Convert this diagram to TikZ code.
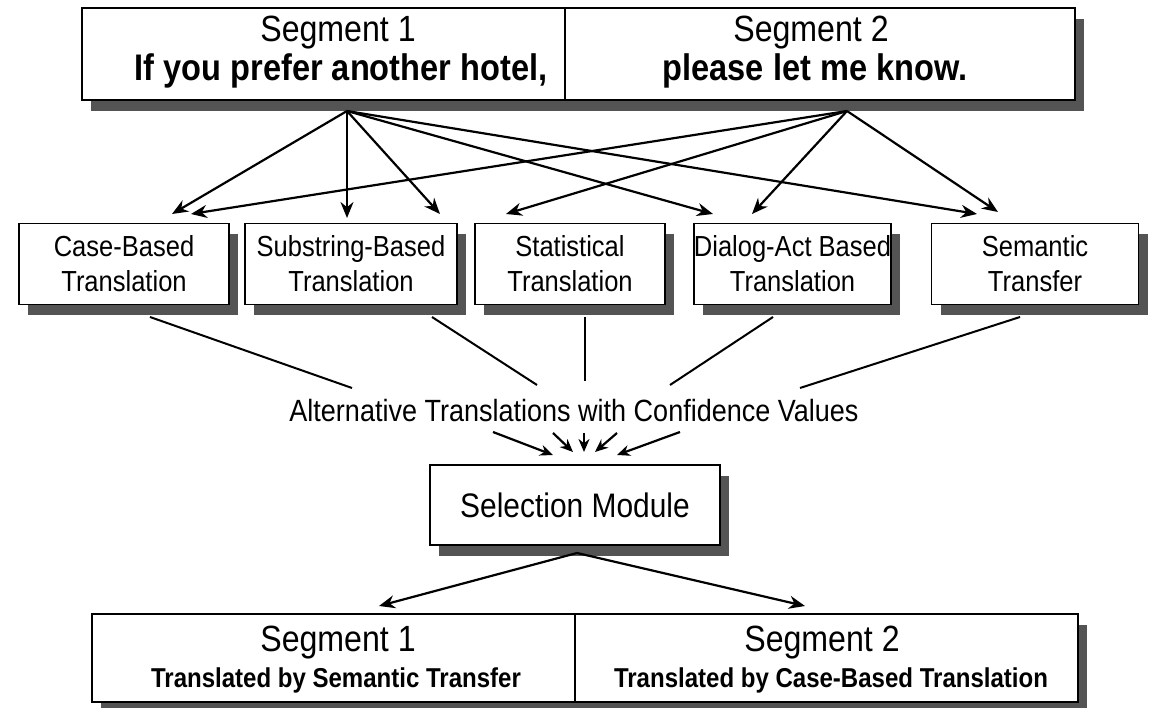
\documentclass[tikz,border=0pt]{standalone}
\usepackage{fontspec}
\setmainfont{Liberation Sans}[FakeStretch=0.88]
\usetikzlibrary{arrows.meta,shadows}
\definecolor{shadowgray}{gray}{0.33}
\begin{document}
\begin{tikzpicture}[x=1pt,y=-1pt,
  panel/.style={draw=black, line width=1.5pt, fill=white, inner sep=0pt,
    drop shadow={shadow xshift=9pt, shadow yshift=-11pt, fill=shadowgray, opacity=1}},
  method/.style={panel, minimum height=81pt, align=center,
    font=\fontsize{29}{35}\selectfont},
  link/.style={line width=2.2pt, -{Stealth[length=16pt,width=13pt]}},
  short/.style={line width=2.2pt, -{Stealth[length=13pt,width=11pt]}},
  feed/.style={line width=2pt},
  divider/.style={line width=1.2pt},
  seghead/.style={font=\fontsize{36.5}{40}\selectfont},
  segtext/.style={font=\bfseries\fontsize{37}{40}\selectfont},
  resulttext/.style={font=\bfseries\fontsize{27.3}{30}\selectfont},
]
\useasboundingbox (0,0) rectangle (1149,708);

% ---- source sentence, split into two segments
\node[panel, minimum width=993pt, minimum height=92pt] (src) at (578.5,54) {};
\coordinate (srcsep) at (565,0);
\draw[divider] (src.north -| srcsep) -- (src.south -| srcsep);
\node[seghead] (s1h) at (338,33) {Segment 1};
\node[segtext] (s1t) at (341,71) {If you prefer another hotel,};
\node[seghead] (s2h) at (811,33) {Segment 2};
\node[segtext] (s2t) at (815,71) {please let me know.};

% ---- translation methods
\node[method, minimum width=210pt] (cb)  at (124,264) {Case-Based\\Translation};
\node[method, minimum width=212pt] (sb)  at (351,264) {Substring-Based\\Translation};
\node[method, minimum width=190pt] (st)  at (570,264) {Statistical\\Translation};
\node[method, minimum width=179pt] (da)  at (792.5,264) {Dialog-Act Based\\Translation};
\node[method, minimum width=207pt] (sem) at (1035,264) {Semantic\\Transfer};

% ---- fan-out from each segment
\coordinate (o1) at (347,111);
\coordinate (o2) at (847,111);
\coordinate (cb1) at (172,214);
\coordinate (cb2) at (191,214);
\coordinate (sb1) at (347,218);
\coordinate (sb2) at (440,214);
\coordinate (st1) at (506,214);
\coordinate (da1) at (713,214);
\coordinate (da2) at (752,214);
\coordinate (se1) at (977,214);
\coordinate (se2) at (998,212);
\draw[link] (o1) -- (cb1);
\draw[link] (o1) -- (sb1);
\draw[link] (o1) -- (sb2);
\draw[link] (o1) -- (da1);
\draw[link] (o1) -- (se1);
\draw[link] (o2) -- (cb2);
\draw[link] (o2) -- (st1);
\draw[link] (o2) -- (da2);
\draw[link] (o2) -- (se2);

% ---- alternatives gathered
\node[font=\fontsize{30.7}{34}\selectfont] (alt) at (574,411)
  {Alternative Translations with Confidence Values};
\coordinate (f1a) at (150,317);  \coordinate (f1b) at (352,388);
\coordinate (f2a) at (432,317);  \coordinate (f2b) at (537,385);
\coordinate (f3a) at (585,317);  \coordinate (f3b) at (585,381);
\coordinate (f4a) at (773,317);  \coordinate (f4b) at (670,385);
\coordinate (f5a) at (1020,317); \coordinate (f5b) at (800,388);
\draw[feed] (f1a) -- (f1b);
\draw[feed] (f2a) -- (f2b);
\draw[feed] (f3a) -- (f3b);
\draw[feed] (f4a) -- (f4b);
\draw[feed] (f5a) -- (f5b);

% ---- selection
\node[panel, minimum width=290pt, minimum height=80pt,
  font=\fontsize{34}{38}\selectfont] (sel) at (575,505) {Selection Module};
\coordinate (c1a) at (493,432); \coordinate (c1b) at (553,455);
\coordinate (c2a) at (553,433); \coordinate (c2b) at (573,452);
\coordinate (c3a) at (584,433); \coordinate (c3b) at (584,452);
\coordinate (c4a) at (617,433); \coordinate (c4b) at (595,452);
\coordinate (c5a) at (680,432); \coordinate (c5b) at (617,455);
\draw[short] (c1a) -- (c1b);
\draw[short] (c2a) -- (c2b);
\draw[short] (c3a) -- (c3b);
\draw[short] (c4a) -- (c4b);
\draw[short] (c5a) -- (c5b);

% ---- resulting translation
\node[panel, minimum width=986pt, minimum height=88pt] (res) at (585,658) {};
\coordinate (ressep) at (575,0);
\draw[divider] (res.north -| ressep) -- (res.south -| ressep);
\node[seghead] (r1h) at (338,643) {Segment 1};
\node[resulttext] (r1t) at (336,680) {Translated by Semantic Transfer};
\node[seghead] (r2h) at (822,643) {Segment 2};
\node[resulttext] (r2t) at (831,680) {Translated by Case-Based Translation};

\coordinate (so) at (577,553);
\coordinate (t1) at (379,606);
\coordinate (t2) at (805,606);
\draw[link] (so) -- (t1);
\draw[link] (so) -- (t2);
\end{tikzpicture}
\end{document}
